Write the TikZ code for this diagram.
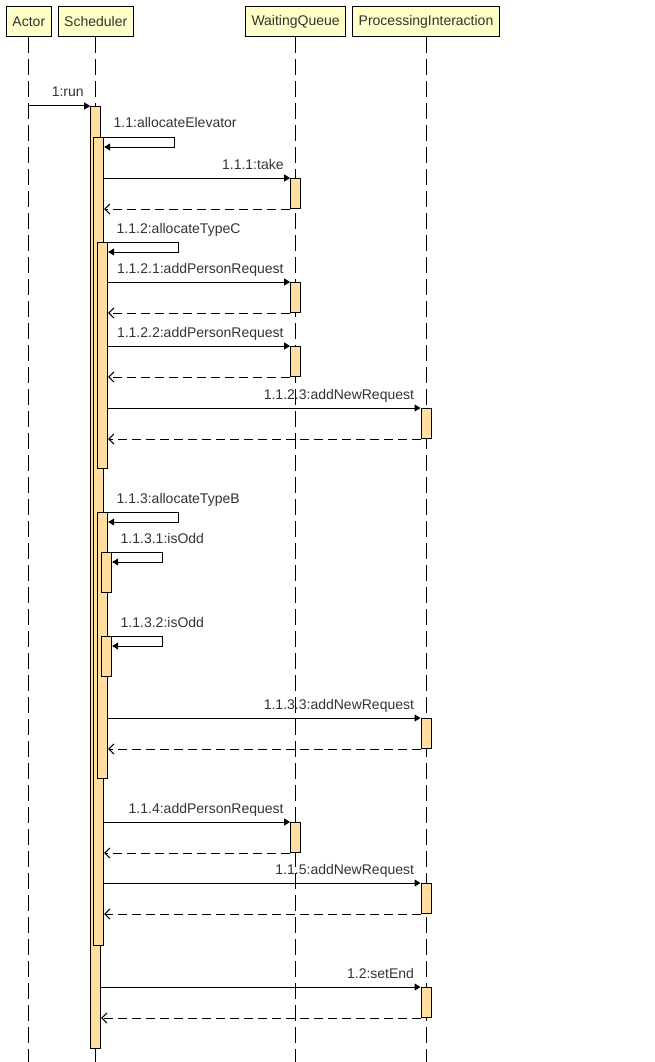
\documentclass[tikz,border=0pt]{standalone}
\usepackage{fontspec}
\setmainfont{Liberation Sans}
\usepackage{tikz}
\usetikzlibrary{positioning,arrows.meta}
\definecolor{headfill}{RGB}{255,255,200}
\definecolor{barfill}{RGB}{255,222,160}

\begin{document}
\begin{tikzpicture}[x=1pt,y=-1pt]
                \tikzstyle{headbox} = [rectangle, draw=black, fill=headfill, line width=1pt, minimum height=30pt, inner xsep=6pt, font=\fontsize{14}{16}\selectfont, text=black!80]
                \tikzstyle{bar} = [rectangle, draw=black, fill=barfill, line width=1pt, minimum width=10pt, inner sep=0pt, anchor=north]
                \tikzstyle{lifeline} = [line width=1pt, dash pattern=on 16pt off 6pt]
                \tikzstyle{arrow} = [line width=1pt, -{Triangle[length=6pt,width=7pt]}]
                \tikzstyle{retarrow} = [line width=1pt, dash pattern=on 9pt off 5pt, -{Straight Barb[length=5pt,width=10pt]}]
                \tikzstyle{lbl} = [font=\fontsize{14}{16}\selectfont, text=black!80, inner sep=0pt, anchor=base east, xshift=-6pt, yshift=9pt]
                \tikzstyle{selflbl} = [font=\fontsize{14}{16}\selectfont, text=black!80, inner sep=0pt, anchor=base west, xshift=12pt, yshift=9pt]
                \useasboundingbox (0,0) rectangle (655,1062);

                % participants
                \node (actor) [headbox, anchor=north west] at (6,6) {Actor};
                \node (sched) [headbox, right=6pt of actor] {Scheduler};
                \node (queue) [headbox, anchor=north west] at (245,6) {WaitingQueue};
                \node (proc) [headbox, right=6pt of queue] {ProcessingInteraction};
                \foreach \n in {actor,sched,queue,proc}
                    \draw [lifeline] (\n.south) -- (\n.south |- 0,1062);

                % activations
                \node (run) [bar, minimum height=942pt] at (sched |- 0,106) {};
                \node (alloc) [bar, minimum height=808pt, xshift=3pt] at (sched |- 0,137) {};
                \node (typec) [bar, minimum height=226pt, xshift=7pt] at (sched |- 0,242) {};
                \node (typeb) [bar, minimum height=266pt, xshift=7pt] at (sched |- 0,512) {};
                \node (odd1) [bar, minimum height=40pt, xshift=11pt] at (sched |- 0,552) {};
                \node (odd2) [bar, minimum height=40pt, xshift=11pt] at (sched |- 0,636) {};
                \node (take) [bar, minimum height=30pt] at (queue |- 0,178) {};
                \node (addp1) [bar, minimum height=30pt] at (queue |- 0,282) {};
                \node (addp2) [bar, minimum height=30pt] at (queue |- 0,346) {};
                \node (addn1) [bar, minimum height=30pt] at (proc |- 0,408) {};
                \node (addn2) [bar, minimum height=30pt] at (proc |- 0,718) {};
                \node (addp3) [bar, minimum height=30pt] at (queue |- 0,822) {};
                \node (addn3) [bar, minimum height=30pt] at (proc |- 0,883) {};
                \node (setend) [bar, minimum height=30pt] at (proc |- 0,987) {};

                % messages
                \draw [arrow] (actor |- run.north) -- (run.north west) node [lbl] {1:run};
                \draw [arrow] (run.east |- alloc.north) node [selflbl] {1.1:allocateElevator} -- ++(73,0) |- ([yshift=-10pt]alloc.north east);
                \draw [arrow] (alloc.east |- take.north) -- (take.north west) node [lbl] {1.1.1:take};
                \draw [retarrow] (take.south west) -- (alloc.east |- take.south);
                \draw [arrow] (alloc.east |- typec.north) node [selflbl] {1.1.2:allocateTypeC} -- ++(74,0) |- ([yshift=-10pt]typec.north east);
                \draw [arrow] (typec.east |- addp1.north) -- (addp1.north west) node [lbl] {1.1.2.1:addPersonRequest};
                \draw [retarrow] (addp1.south west) -- (typec.east |- addp1.south);
                \draw [arrow] (typec.east |- addp2.north) -- (addp2.north west) node [lbl] {1.1.2.2:addPersonRequest};
                \draw [retarrow] (addp2.south west) -- (typec.east |- addp2.south);
                \draw [arrow] (typec.east |- addn1.north) -- (addn1.north west) node [lbl] {1.1.2.3:addNewRequest};
                \draw [retarrow] (addn1.south west) -- (typec.east |- addn1.south);
                \draw [arrow] (alloc.east |- typeb.north) node [selflbl] {1.1.3:allocateTypeB} -- ++(74,0) |- ([yshift=-10pt]typeb.north east);
                \draw [arrow] (typeb.east |- odd1.north) node [selflbl] {1.1.3.1:isOdd} -- ++(54,0) |- ([yshift=-10pt]odd1.north east);
                \draw [arrow] (typeb.east |- odd2.north) node [selflbl] {1.1.3.2:isOdd} -- ++(54,0) |- ([yshift=-10pt]odd2.north east);
                \draw [arrow] (typeb.east |- addn2.north) -- (addn2.north west) node [lbl] {1.1.3.3:addNewRequest};
                \draw [retarrow] (addn2.south west) -- (typeb.east |- addn2.south);
                \draw [arrow] (alloc.east |- addp3.north) -- (addp3.north west) node [lbl] {1.1.4:addPersonRequest};
                \draw [retarrow] (addp3.south west) -- (alloc.east |- addp3.south);
                \draw [arrow] (alloc.east |- addn3.north) -- (addn3.north west) node [lbl] {1.1.5:addNewRequest};
                \draw [retarrow] (addn3.south west) -- (alloc.east |- addn3.south);
                \draw [arrow] (run.east |- setend.north) -- (setend.north west) node [lbl] {1.2:setEnd};
                \draw [retarrow] (setend.south west) -- (run.east |- setend.south);

            \end{tikzpicture}
\end{document}
